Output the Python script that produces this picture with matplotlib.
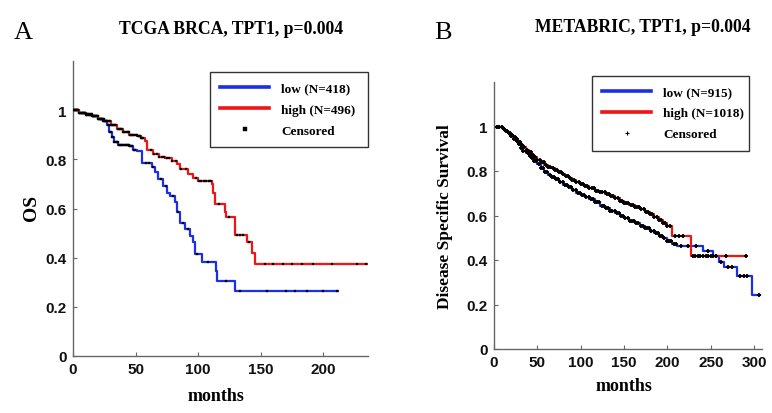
import numpy as np
import matplotlib
matplotlib.use("Agg")
import matplotlib.pyplot as plt
from matplotlib.lines import Line2D

# ---------------- data ----------------
# Panel A: TCGA BRCA (OS)
a_low_t = [0, 5, 10, 15, 20, 24, 27, 29, 31, 33, 36, 45, 48, 51, 55, 63, 65.6, 68, 72, 75, 77.6, 81.6, 83, 85.6, 89.6, 93.6, 96, 97.6, 103, 114, 115, 129.6, 212]
a_low_s = [1, 0.99, 0.98, 0.975, 0.965, 0.955, 0.94, 0.91, 0.89, 0.87, 0.86, 0.855, 0.84, 0.835, 0.784, 0.767, 0.747, 0.72, 0.69, 0.665, 0.652, 0.625, 0.584, 0.543, 0.516, 0.489, 0.462, 0.415, 0.381, 0.347, 0.306, 0.263, 0.263]
a_high_t = [0, 5, 10, 15, 20, 25, 30, 35, 40, 45, 51, 54, 57.6, 59.5, 64, 69, 73.6, 79, 83, 85.6, 92, 96, 100, 111, 112, 113.6, 121.6, 122.6, 129.6, 139, 143, 145.6, 235]
a_high_s = [1, 0.99, 0.985, 0.975, 0.965, 0.955, 0.94, 0.925, 0.91, 0.9, 0.895, 0.885, 0.875, 0.84, 0.82, 0.81, 0.807, 0.795, 0.78, 0.76, 0.74, 0.726, 0.712, 0.70, 0.665, 0.618, 0.584, 0.564, 0.493, 0.462, 0.42, 0.374, 0.374]
a_low_cens = [0.5, 1.5, 2.5, 3.4, 4.3, 5.2, 6.1, 7.0, 7.9, 8.8, 9.7, 10.6, 11.5, 12.4, 13.3, 14.2, 15.1, 16.0, 16.9, 17.8,
              18.7, 19.6, 20.5, 21.4, 22.3, 23.2, 24.1, 25.0, 25.9, 26.8, 27.7, 28.6, 29.5, 30.4, 31.3, 32.2, 33.1, 34.0,
              34.9, 35.8, 36.7, 37.6, 38.5, 39.4, 40.3, 41.2, 42.1, 43.0, 43.9, 44.8, 45.7, 46.6, 47.5, 48.4, 49.3,
              58, 61, 64, 70, 74, 80, 84, 88, 92, 99, 108, 122, 133.6, 155, 170, 177.6, 187, 200, 211]
a_high_cens = [0.5, 1.4, 2.3, 3.2, 4.1, 5.0, 5.9, 6.8, 7.7, 8.6, 9.5, 10.4, 11.3, 12.2, 13.1, 14.0, 14.9, 15.8, 16.7, 17.6,
               18.5, 19.4, 20.3, 21.2, 22.1, 23.0, 23.9, 24.8, 25.7, 26.6, 27.5, 28.4, 29.3, 30.2, 31.1, 32.0, 32.9,
               33.8, 34.7, 35.6, 36.5, 37.4, 38.3, 39.2, 40.1, 41.0, 41.9, 42.8, 43.7, 44.6, 45.5, 46.4, 47.3, 48.2,
               49.1, 50.0, 50.9, 51.8, 52.7, 53.6, 54.5, 55.4, 56.3,
               62, 65, 67, 69, 71, 73, 75, 77, 79.5, 82, 86, 90, 98, 100.5, 102.5, 104.5, 106.5, 108.5, 110.5,
               117, 125, 131, 133.5, 136, 141, 153.6, 160, 168, 175, 183, 191.6, 207, 227, 234]

# Panel B: METABRIC (Disease Specific Survival)
b_low_t = [0, 5, 10, 13, 16, 19, 22, 25, 28, 31, 34, 37, 40, 43, 46, 50, 54, 58, 62, 66, 70, 75, 80, 85, 90, 95, 100, 105,
           110, 116, 122, 128, 134, 140, 145, 150, 156, 162, 168, 174, 180, 185, 190, 195, 199, 205, 211, 241, 253, 259,
           265, 280, 297, 307]
b_low_s = [1, 0.998, 0.99, 0.981, 0.97, 0.958, 0.946, 0.934, 0.921, 0.905, 0.891, 0.879, 0.867, 0.858, 0.846, 0.83, 0.812,
           0.794, 0.783, 0.773, 0.762, 0.75, 0.739, 0.727, 0.715, 0.703, 0.69, 0.682, 0.674, 0.66, 0.644, 0.632, 0.621,
           0.61, 0.599, 0.588, 0.576, 0.565, 0.554, 0.543, 0.532, 0.52, 0.51, 0.497, 0.487, 0.474, 0.461, 0.442, 0.417,
           0.39, 0.367, 0.327, 0.243, 0.243]
b_high_t = [0, 5, 10, 13, 16, 19, 22, 25, 28, 31, 34, 37, 40, 43, 46, 50, 54, 58, 62, 66, 70, 74, 78, 82, 86, 90, 94, 99,
            104, 110, 116, 122, 128, 134, 140, 145, 150, 156, 162, 168, 174, 180, 185, 190, 195, 200, 205, 227, 291]
b_high_s = [1, 0.998, 0.99, 0.981, 0.972, 0.962, 0.952, 0.942, 0.93, 0.918, 0.907, 0.896, 0.885, 0.873, 0.862, 0.851, 0.84,
            0.829, 0.82, 0.812, 0.805, 0.797, 0.788, 0.779, 0.77, 0.76, 0.752, 0.742, 0.734, 0.722, 0.712, 0.704, 0.695,
            0.686, 0.677, 0.667, 0.656, 0.645, 0.636, 0.627, 0.617, 0.607, 0.594, 0.58, 0.566, 0.554, 0.51, 0.417, 0.417]
b_low_cens = [3, 6, 9, 12, 14, 17, 20, 23, 26, 29, 31.5, 34, 36.5, 39, 41.5, 44, 46.5, 49, 51.5, 54, 56.5, 59, 61.5, 64,
              66.5, 69, 71.5, 74, 76.5, 79, 81.5, 84, 86.5, 89, 91.5, 94, 96.5, 99, 101.5, 104, 106.5, 109, 111.5, 114,
              116.5, 119, 121.5, 124, 126.5, 129, 131.5, 134, 136.5, 139, 141.5, 144, 146.5, 149, 151.5, 154, 156.5,
              159, 161.5, 164, 166.5, 169, 171.5, 174, 176.5, 179, 181.5, 184, 186.5, 189, 191.5, 194, 196.5, 199,
              201.5, 204, 207, 210, 216, 224, 233, 247, 256, 262, 270, 274, 284, 288, 292, 306]
b_high_cens = [3, 6, 9, 12, 15, 18, 21, 24, 27, 30, 32.5, 35, 37.5, 40, 42.5, 45, 47.5, 50, 52.5, 55, 57.5, 60, 62.5,
               65, 67.5, 70, 72.5, 75, 77.5, 80, 82.5, 85, 87.5, 90, 92.5, 95, 97.5, 100, 102.5, 105, 107.5, 110, 112.5,
               115, 117.5, 120, 122.5, 125, 127.5, 130, 132.5, 135, 137.5, 140, 142.5, 145, 147.5, 150, 152.5, 155,
               157.5, 160, 162.5, 165, 167.5, 170, 172.5, 175, 177.5, 180, 182.5, 185, 187.5, 190, 192.5, 195, 197.5,
               200, 203, 209, 213, 218, 229, 232, 235, 238, 241, 244, 247, 250, 253, 256, 268, 290]

a_labels = ["low (N=418)", "high (N=496)", "Censored"]
b_labels = ["low (N=915)", "high (N=1018)", "Censored"]
titles = ["TCGA BRCA, TPT1, p=0.004", "METABRIC, TPT1, p=0.004"]
panel_letters = ["A", "B"]
ylabels = ["OS", "Disease Specific Survival"]
a_xticks = [0, 50, 100, 150, 200]
b_xticks = [0, 50, 100, 150, 200, 250, 300]
yticks = [0, 0.2, 0.4, 0.6, 0.8, 1]
ytick_labels = ["0", "0.2", "0.4", "0.6", "0.8", "1"]

BLUE = "#1a2fe6"
RED = "#f01414"
SERIF = ["Liberation Serif", "DejaVu Serif"]
SANS = ["Liberation Sans", "DejaVu Sans"]


def surv_at(t, s, c):
    t = np.asarray(t)
    s = np.asarray(s)
    idx = np.searchsorted(t, c, side="right") - 1
    return s[np.clip(idx, 0, len(s) - 1)]


fig = plt.figure(figsize=(7.72, 4.14), dpi=100)
fig.patch.set_facecolor("white")

axA = fig.add_axes([73 / 772, (414 - 357) / 414, 295 / 772, 295 / 414])
axB = fig.add_axes([494 / 772, (414 - 350) / 414, 268 / 772, 267 / 414])


def style_axes(ax, xmax, xticks):
    ax.set_xlim(0, xmax)
    ax.set_ylim(0, 1.2)
    for sp in ["top", "right"]:
        ax.spines[sp].set_visible(False)
    for sp in ["left", "bottom"]:
        ax.spines[sp].set_color("#666666")
        ax.spines[sp].set_linewidth(1.0)
    ax.set_xticks(xticks)
    ax.set_xticklabels([str(v) for v in xticks])
    ax.set_yticks(yticks)
    ax.set_yticklabels(ytick_labels)
    ax.tick_params(direction="in", length=3, width=0.8, color="#666666", pad=4.5)
    for lab in ax.get_xticklabels() + ax.get_yticklabels():
        lab.set_fontfamily(SANS)
        lab.set_fontweight("bold")
        lab.set_fontsize(11)
        lab.set_color("#111111")


# ---- Panel A ----
axA.step(a_low_t, a_low_s, where="post", color=BLUE, lw=1.6, zorder=2)
axA.step(a_high_t, a_high_s, where="post", color=RED, lw=1.6, zorder=2)
axA.plot(a_low_cens, surv_at(a_low_t, a_low_s, a_low_cens), ls="none", marker="s", ms=1.6,
         mfc="black", mec="black", mew=0.2, zorder=3)
axA.plot(a_high_cens, surv_at(a_high_t, a_high_s, a_high_cens), ls="none", marker="s", ms=1.6,
         mfc="black", mec="black", mew=0.2, zorder=3)
style_axes(axA, 236, a_xticks)

# ---- Panel B ----
axB.step(b_low_t, b_low_s, where="post", color=BLUE, lw=1.6, zorder=2)
axB.step(b_high_t, b_high_s, where="post", color=RED, lw=1.6, zorder=2)
axB.plot(b_low_cens, surv_at(b_low_t, b_low_s, b_low_cens), ls="none", marker="+", ms=2.8,
         mec="black", mew=1.3, zorder=3)
axB.plot(b_high_cens, surv_at(b_high_t, b_high_s, b_high_cens), ls="none", marker="+", ms=2.8,
         mec="black", mew=1.3, zorder=3)
style_axes(axB, 309, b_xticks)

# axis labels
axA.set_ylabel(ylabels[0], fontfamily=SERIF, fontweight="bold", fontsize=14)
axA.yaxis.set_label_coords(-0.112, 0.505)
axB.set_ylabel(ylabels[1], fontfamily=SERIF, fontweight="bold", fontsize=12.5)
axB.yaxis.set_label_coords(-0.152, 0.5)
for ax in (axA, axB):
    ax.set_xlabel("months", fontfamily=SERIF, fontweight="bold", fontsize=13)
axA.xaxis.set_label_coords(0.484, -0.105)
axB.xaxis.set_label_coords(0.485, -0.106)

# legends
def make_legend(ax, labels, cmark, bbox):
    handles = [Line2D([], [], color=BLUE, lw=2.6),
               Line2D([], [], color=RED, lw=2.6),
               Line2D([], [], ls="none", marker=cmark, color="black",
                      ms=2.4 if cmark == "s" else 3.5, mew=0.8 if cmark == "+" else 0.3)]
    leg = ax.legend(handles, labels, loc="upper left", bbox_to_anchor=bbox, mode="expand",
                    prop={"family": SERIF, "weight": "bold", "size": 9.5},
                    frameon=True, fancybox=False, edgecolor="#333333", framealpha=1,
                    handlelength=3.7, handletextpad=0.9, labelspacing=0.66,
                    borderpad=0.8, borderaxespad=0, numpoints=1)
    leg.get_frame().set_linewidth(1.0)
    return leg

make_legend(axA, a_labels, "s", (0.464, 0.963, 0.536, 0.0))
make_legend(axB, b_labels, "+", (0.3645, 1.0236, 0.588, 0.0))

# titles and panel letters
fig.text(231 / 772, 1 - 30 / 414, titles[0], ha="center", va="center",
         fontfamily=SERIF, fontweight="bold", fontsize=12.7)
fig.text(643 / 772, 1 - 27 / 414, titles[1], ha="center", va="center",
         fontfamily=SERIF, fontweight="bold", fontsize=12.7)
fig.text(23 / 772, 1 - 33 / 414, panel_letters[0], ha="center", va="center",
         fontfamily=SERIF, fontsize=19)
fig.text(443 / 772, 1 - 33 / 414, panel_letters[1], ha="center", va="center",
         fontfamily=SERIF, fontsize=19)

fig.savefig("out.png", dpi=100, facecolor="white")
